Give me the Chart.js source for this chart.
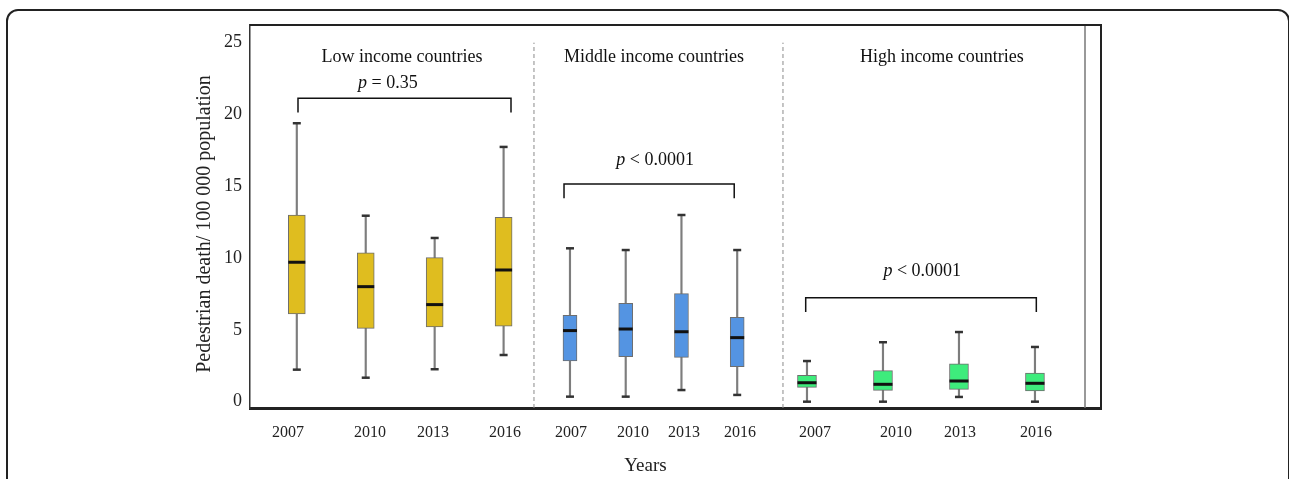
<!DOCTYPE html>
<html>
<head>
<meta charset="utf-8">
<script src="https://cdn.jsdelivr.net/npm/chart.js@4.4.1/dist/chart.umd.min.js"></script>
<style>
  html, body { margin: 0; padding: 0; background: #fff; }
  #wrap { position: relative; width: 1289px; height: 479px; overflow: hidden; }
  #frame { position: absolute; left: 6px; top: 9px; width: 1284px; height: 520px;
           border: 2px solid #222; border-radius: 12px; box-sizing: border-box; }
  canvas { position: absolute; left: 0; top: 0; }
</style>
</head>
<body>
<div id="wrap">
  <div id="frame"></div>
  <canvas id="box-chart" width="1289" height="479"></canvas>
</div>
<script>
const groups = ["Low income countries", "Middle income countries", "High income countries"];
const years = ["2007", "2010", "2013", "2016"];
const pLabels = ["= 0.35", "< 0.0001", "< 0.0001"];
const yTicks = [0, 5, 10, 15, 20, 25];

// box plot statistics, one value per year
const lowMin = [2.23, 1.67, 2.26, 3.25];
const lowQ1 = [6.11, 5.11, 5.2, 5.25];
const lowMedian = [9.71, 8.01, 6.76, 9.17];
const lowQ3 = [13.0, 10.36, 10.03, 12.84];
const lowMax = [19.39, 12.95, 11.4, 17.74];

const midMin = [0.35, 0.35, 0.81, 0.47];
const midQ1 = [2.83, 3.13, 3.09, 2.44];
const midMedian = [4.95, 5.06, 4.87, 4.46];
const midQ3 = [6.02, 6.85, 7.52, 5.88];
const midMax = [10.68, 10.56, 13.0, 10.56];

const highMin = [0.0, 0.0, 0.33, 0.0];
const highQ1 = [1.0, 0.79, 0.86, 0.75];
const highMedian = [1.32, 1.21, 1.44, 1.28];
const highQ3 = [1.84, 2.16, 2.63, 2.0];
const highMax = [2.83, 4.14, 4.85, 3.81];

// layout (x axis runs 0..100 across the plot)
const colors = ["#dfbd1f", "#5494e2", "#3eec7c"];
const boxWidth = [17, 14, 19];
const groupStart = [5.5, 37.6, 65.45];
const groupStep = [8.1, 6.55, 8.93];
const labelX = [4.47, 14.1, 21.5, 29.97, 37.72, 45.0, 51.0, 57.58, 66.39, 75.91, 83.43, 92.36];
const dividerX = [33.37, 62.63];
const innerRightX = 98.12;
const titleX = [17.86, 47.47, 81.3];
const titleY = 24.0;
const pX = [16.2, 47.6, 79.0];
const pY = [22.2, 16.8, 9.1];
const bracketX = [[5.64, 30.67], [36.9, 56.9], [65.3, 92.4]];
const bracketY = [21.13, 15.16, 7.24];
const legLen = 1.0;
const yMin = -0.44, yMax = 26.23;

const serif = '"Liberation Serif", "Times New Roman", serif';

const stats = [
    [lowMin, lowQ1, lowMedian, lowQ3, lowMax],
    [midMin, midQ1, midMedian, midQ3, midMax],
    [highMin, highQ1, highMedian, highQ3, highMax]
];

let datasets = [];
stats.forEach(([mn, q1, md, q3, mx], g) => {
    let xs = years.map((_, i) => groupStart[g] + i * groupStep[g]);
    // whisker
    datasets.push({
        type: 'bar',
        data: xs.map((xv, i) => ({ x: xv, y: [mn[i], mx[i]] })),
        backgroundColor: '#7d7d7d',
        barThickness: 1.5,
        grouped: false,
        order: 5
    });
    // box
    datasets.push({
        type: 'bar',
        data: xs.map((xv, i) => ({ x: xv, y: [q1[i], q3[i]] })),
        backgroundColor: colors[g],
        borderColor: '#6e6e6e',
        borderWidth: 1,
        borderSkipped: false,
        barThickness: boxWidth[g],
        grouped: false,
        order: 4
    });
    // caps
    datasets.push({
        type: 'scatter',
        data: xs.flatMap((xv, i) => [{ x: xv, y: mn[i] }, { x: xv, y: mx[i] }]),
        pointStyle: 'line',
        pointRadius: 4,
        pointBorderWidth: 2.5,
        pointBorderColor: '#333',
        order: 3
    });
    // median
    datasets.push({
        type: 'scatter',
        data: xs.map((xv, i) => ({ x: xv, y: md[i] })),
        pointStyle: 'line',
        pointRadius: boxWidth[g] / 2,
        pointBorderWidth: 3,
        pointBorderColor: '#111',
        order: 2
    });
    // bracket
    let [b0, b1] = bracketX[g];
    datasets.push({
        type: 'line',
        data: [
            { x: b0, y: bracketY[g] - legLen }, { x: b0, y: bracketY[g] },
            { x: b1, y: bracketY[g] }, { x: b1, y: bracketY[g] - legLen }
        ],
        borderColor: '#111',
        borderWidth: 1.5,
        pointRadius: 0,
        fill: false,
        order: 1
    });
});

dividerX.forEach(dx => {
    datasets.push({
        type: 'line',
        data: [{ x: dx, y: yMin }, { x: dx, y: 25 }],
        borderColor: '#8a8a8a',
        borderWidth: 1,
        borderDash: [4, 3],
        pointRadius: 0,
        order: 6
    });
});
datasets.push({
    type: 'line',
    data: [{ x: innerRightX, y: yMin }, { x: innerRightX, y: yMax }],
    borderColor: '#777',
    borderWidth: 1.5,
    pointRadius: 0,
    order: 6
});

const notes = {
    id: 'notes',
    afterDatasetsDraw(chart) {
        const { ctx, scales: { x, y } } = chart;
        ctx.save();
        ctx.fillStyle = '#111';
        ctx.textBaseline = 'middle';
        ctx.textAlign = 'center';
        ctx.font = '18px ' + serif;
        groups.forEach((g, i) => {
            ctx.fillText(g, x.getPixelForValue(titleX[i]), y.getPixelForValue(titleY));
        });
        pLabels.forEach((t, i) => {
            ctx.font = 'italic 18px ' + serif;
            let wp = ctx.measureText('p ').width;
            ctx.font = '18px ' + serif;
            let wt = ctx.measureText(t).width;
            let left = x.getPixelForValue(pX[i]) - (wp + wt) / 2;
            let py = y.getPixelForValue(pY[i]);
            ctx.textAlign = 'left';
            ctx.font = 'italic 18px ' + serif;
            ctx.fillText('p', left, py);
            ctx.font = '18px ' + serif;
            ctx.fillText(t, left + wp, py);
        });
        ctx.restore();
    },
    afterDraw(chart) {
        const { ctx, chartArea: a } = chart;
        ctx.save();
        ctx.strokeStyle = '#222';
        ctx.lineWidth = 2;
        ctx.beginPath();
        ctx.moveTo(a.left, a.top);
        ctx.lineTo(a.right, a.top);
        ctx.lineTo(a.right, a.bottom);
        ctx.stroke();
        ctx.restore();
    }
};

new Chart(document.getElementById("box-chart"), {
    type: 'bar',
    data: { datasets: datasets },
    plugins: [notes],
    options: {
        responsive: false,
        animation: false,
        layout: { padding: { left: 190, right: 188, top: 25, bottom: 0 } },
        plugins: {
            legend: { display: false },
            tooltip: { enabled: false },
            title: {
                display: true,
                position: 'bottom',
                text: 'Years',
                color: '#222',
                font: { family: serif, size: 19, weight: 'normal' },
                padding: { top: 4, bottom: 2 }
            }
        },
        scales: {
            x: {
                type: 'linear',
                min: 0,
                max: 100,
                offset: false,
                grid: { display: false, drawTicks: false, offset: false },
                border: { display: true, color: '#222', width: 3 },
                afterBuildTicks: (scale) => {
                    scale.ticks = labelX.map(v => ({ value: v }));
                },
                afterFit: (scale) => { scale.height = 42.2; },
                ticks: {
                    autoSkip: false,
                    maxRotation: 0,
                    padding: 15,
                    color: '#222',
                    font: { family: serif, size: 16 },
                    callback: (v, i) => years[i % years.length]
                }
            },
            y: {
                type: 'linear',
                min: yMin,
                max: yMax,
                grid: { display: false, drawTicks: false },
                border: { display: true, color: '#333', width: 1.5 },
                afterBuildTicks: (scale) => {
                    scale.ticks = yTicks.map(v => ({ value: v }));
                },
                afterFit: (scale) => { scale.width = 60; },
                ticks: {
                    padding: 8,
                    color: '#222',
                    font: { family: serif, size: 18 }
                },
                title: {
                    display: true,
                    text: 'Pedestrian death/ 100 000 population   ',
                    color: '#222',
                    font: { family: serif, size: 20 },
                    padding: { top: 3, bottom: 0 }
                }
            }
        }
    }
});
</script>
</body>
</html>
